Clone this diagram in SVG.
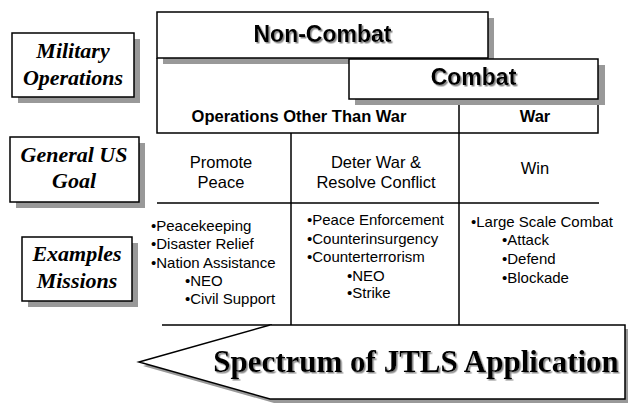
<svg xmlns="http://www.w3.org/2000/svg" width="628" height="404" viewBox="0 0 628 404">
<defs>
<filter id="ts" x="-5%" y="-20%" width="110%" height="140%">
<feDropShadow dx="1.5" dy="1.5" stdDeviation="0.3" flood-color="#888" flood-opacity="1"/>
</filter>
</defs>
<style>
.box{fill:#fff;stroke:#000;stroke-width:1.5}
.shd{fill:#999}
.ln{fill:none;stroke:#000;stroke-width:1.5}
.lbl{font-family:"Liberation Serif",serif;font-weight:bold;font-style:italic;font-size:22px;text-anchor:middle;fill:#000}
.hd{font-family:"Liberation Sans",sans-serif;font-weight:bold;font-size:23px;text-anchor:middle;fill:#000;filter:url(#ts)}
.sub{font-family:"Liberation Sans",sans-serif;font-weight:bold;font-size:16.5px;text-anchor:middle;fill:#000}
.goal{font-family:"Liberation Sans",sans-serif;font-size:16.5px;text-anchor:middle;fill:#000}
.ls{font-family:"Liberation Sans",sans-serif;font-size:15px;fill:#000}
.big{font-family:"Liberation Serif",serif;font-weight:bold;font-size:31px;text-anchor:middle;fill:#000;filter:url(#ts)}
</style>
<rect width="628" height="404" fill="#fff"/>
<g id="label-military">
<rect class="shd" x="18" y="39" width="122" height="64"/>
<rect class="box" x="12" y="33" width="122" height="64"/>
<text class="lbl" x="73" y="58">Military</text>
<text class="lbl" x="73" y="85">Operations</text>
</g>
<g id="label-goal">
<rect class="shd" x="16" y="143" width="129" height="65"/>
<rect class="box" x="10" y="137" width="129" height="65"/>
<text class="lbl" x="74" y="162">General US</text>
<text class="lbl" x="74" y="188">Goal</text>
</g>
<g id="label-examples">
<rect class="shd" x="28" y="243" width="110" height="64"/>
<rect class="box" x="22" y="237" width="110" height="64"/>
<text class="lbl" x="77" y="261">Examples</text>
<text class="lbl" x="77" y="288">Missions</text>
</g>
<g id="connectors">
<path class="ln" d="M157,58 V133 H598 V99"/>
<path class="ln" d="M459,99 V325 M291,133 V325 M157,203 H599 M162,325 H272"/>
</g>
<g id="non-combat">
<rect class="shd" x="163" y="18" width="331" height="46"/>
<rect class="box" x="157" y="12" width="331" height="46"/>
<text class="hd" x="322.5" y="42">Non-Combat</text>
</g>
<g id="combat">
<rect class="shd" x="355" y="65" width="250" height="40"/>
<rect class="box" x="349" y="59" width="249" height="40"/>
<text class="hd" x="473.5" y="85">Combat</text>
</g>
<g id="ootw">
<text class="sub" x="299" y="122">Operations Other Than War</text>
</g>
<g id="war">
<text class="sub" x="535" y="122">War</text>
</g>
<g id="goal-peace">
<text class="goal" x="221" y="168">Promote</text>
<text class="goal" x="221" y="188">Peace</text>
</g>
<g id="goal-deter">
<text class="goal" x="376" y="168">Deter War &amp;</text>
<text class="goal" x="376" y="188">Resolve Conflict</text>
</g>
<g id="goal-win">
<text class="goal" x="535" y="174">Win</text>
</g>
<g id="missions-1">
<text class="ls" x="151" y="231">•Peacekeeping</text>
<text class="ls" x="151" y="249">•Disaster Relief</text>
<text class="ls" x="151" y="268">•Nation Assistance</text>
<text class="ls" x="185" y="286">•NEO</text>
<text class="ls" x="185" y="304">•Civil Support</text>
</g>
<g id="missions-2">
<text class="ls" x="307" y="225">•Peace Enforcement</text>
<text class="ls" x="307" y="244">•Counterinsurgency</text>
<text class="ls" x="307" y="262">•Counterterrorism</text>
<text class="ls" x="347" y="281">•NEO</text>
<text class="ls" x="347" y="298">•Strike</text>
</g>
<g id="missions-3">
<text class="ls" x="471" y="227">•Large Scale Combat</text>
<text class="ls" x="502" y="245">•Attack</text>
<text class="ls" x="502" y="264">•Defend</text>
<text class="ls" x="502" y="283">•Blockade</text>
</g>
<g id="spectrum-arrow">
<polygon class="shd" points="143,366 274,329 629,329 629,403 274,403"/>
<polygon class="box" points="139,362 270,325 625,325 625,399 270,399"/>
<text class="big" x="416" y="372">Spectrum of JTLS Application</text>
</g>
</svg>
